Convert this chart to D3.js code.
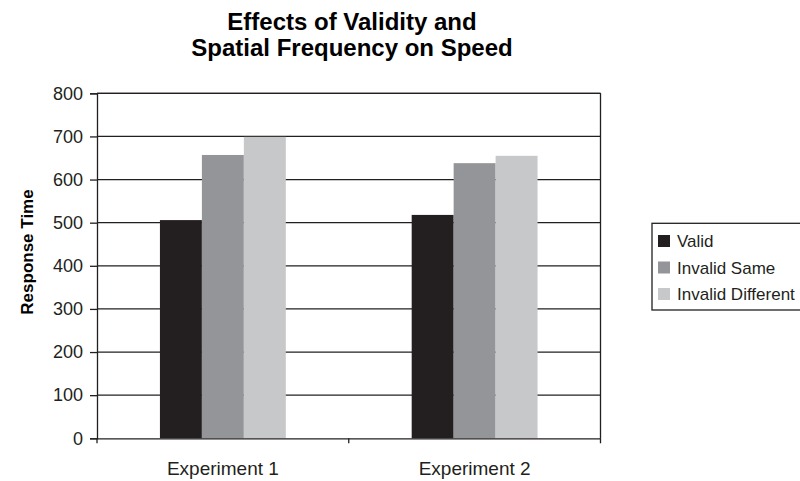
<!DOCTYPE html>
<html><head><meta charset="utf-8">
<script src="https://cdn.jsdelivr.net/npm/d3@7"></script>
<style>body{margin:0;background:#fff;} svg{display:block;font-family:"Liberation Sans",Arial,sans-serif;}</style>
</head><body>
<svg id="c" width="800" height="481"></svg>
<script>
const categories = ["Experiment 1", "Experiment 2"];
const seriesNames = ["Valid", "Invalid Same", "Invalid Different"];
const valid = [506, 518];
const invalidSame = [657, 638];
const invalidDifferent = [699, 655];
const yTicks = [0, 100, 200, 300, 400, 500, 600, 700, 800];
const colors = ["#231f20", "#939598", "#c7c8ca"];
const titleLines = ["Effects of Validity and", "Spatial Frequency on Speed"];
const yTitle = "Response Time";

const seriesValues = [valid, invalidSame, invalidDifferent];
const svg = d3.select("#c");
const L = 97, R = 600.5, T = 93.3, B = 438.3;
const ink = "#231f20";

const x0 = d3.scaleBand().domain(categories).range([L, R]).paddingInner(0).paddingOuter(0);
const x1 = d3.scaleBand().domain(seriesNames).range([0, x0.bandwidth()]).paddingInner(0).paddingOuter(1.5);
const y = d3.scaleLinear().domain([0, 800]).range([B, T]);

// gridlines
svg.append("g").selectAll("line").data(yTicks.filter(d => d > 0)).join("line")
  .attr("x1", L).attr("x2", R).attr("y1", d => y(d)).attr("y2", d => y(d))
  .attr("stroke", ink).attr("stroke-width", 1.3);

// bars
const rows = [];
categories.forEach((c, i) => seriesNames.forEach((s, j) => rows.push({c, s, v: seriesValues[j][i], j})));
svg.append("g").selectAll("rect").data(rows).join("rect")
  .attr("x", d => x0(d.c) + x1(d.s)).attr("width", x1.bandwidth())
  .attr("y", d => y(d.v)).attr("height", d => B - y(d.v))
  .attr("fill", d => colors[d.j]);

// frame right and top
svg.append("line").attr("x1", L).attr("x2", R).attr("y1", T).attr("y2", T).attr("stroke", ink).attr("stroke-width", 1.3);
svg.append("line").attr("x1", R).attr("x2", R).attr("y1", T).attr("y2", B).attr("stroke", ink).attr("stroke-width", 1.3);

// y axis
const yAxis = svg.append("g").attr("transform", `translate(${L},0)`)
  .call(d3.axisLeft(y).tickValues(yTicks).tickSize(7).tickPadding(7));
yAxis.select(".domain").attr("stroke", ink).attr("stroke-width", 1.3);
yAxis.selectAll(".tick line").attr("stroke", ink).attr("stroke-width", 1.3);
yAxis.selectAll("text").attr("font-size", 18).attr("fill", ink).attr("font-family", "Liberation Sans, Arial, sans-serif");

// x axis
const xAxis = svg.append("g").attr("transform", `translate(0,${B})`)
  .call(d3.axisBottom(x0).tickSize(0).tickPadding(23));
xAxis.select(".domain").attr("stroke", ink).attr("stroke-width", 1.3);
xAxis.selectAll("text").attr("font-size", 19).attr("fill", ink).attr("font-family", "Liberation Sans, Arial, sans-serif");
const bounds = categories.map(c => x0(c)).concat([R]);
svg.append("g").selectAll("line").data(bounds).join("line")
  .attr("x1", d => d).attr("x2", d => d).attr("y1", B).attr("y2", B + 5)
  .attr("stroke", ink).attr("stroke-width", 1.3);

// title
svg.append("g").selectAll("text").data(titleLines).join("text")
  .attr("x", 352).attr("y", (d, i) => 30 + i * 26)
  .attr("text-anchor", "middle").attr("font-weight", "bold").attr("font-size", 24).attr("fill", "#000")
  .text(d => d);

// y title
svg.append("text").attr("transform", "translate(33,252) rotate(-90)")
  .attr("text-anchor", "middle").attr("font-weight", "bold").attr("font-size", 17).attr("fill", "#000")
  .text(yTitle);

// legend
const lg = svg.append("g");
lg.append("rect").attr("x", 652).attr("y", 223.3).attr("width", 160).attr("height", 86.7)
  .attr("fill", "#fff").attr("stroke", ink).attr("stroke-width", 1.3);
const li = lg.selectAll("g.it").data(seriesNames).join("g").attr("class", "it")
  .attr("transform", (d, i) => `translate(658,${241 + i * 26.5})`);
li.append("rect").attr("x", 0).attr("y", -6).attr("width", 12).attr("height", 12).attr("fill", (d, i) => colors[i]);
li.append("text").attr("x", 19).attr("y", 6).attr("font-size", 17).attr("fill", ink).text(d => d);
</script>
</body></html>
